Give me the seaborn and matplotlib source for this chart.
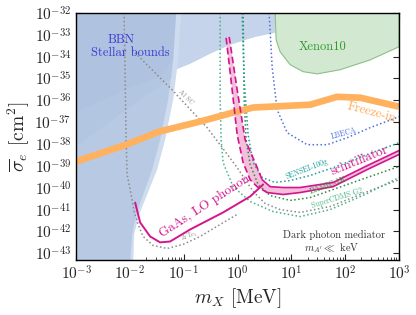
import numpy as np
import pandas as pd
import matplotlib
matplotlib.use("Agg")
import matplotlib.pyplot as plt
import seaborn as sns

# ---- data (log10 of m_X [MeV], log10 of sigma_e [cm^2]) ----
freeze_logm = [-3.0, -2.07, -1.457, -0.695, -0.082, 0.29, 1.35, 1.85, 2.28, 3.0]
freeze_logs = [-38.80, -38.03, -37.43, -36.97, -36.56, -36.33, -36.2, -35.84, -35.88, -36.29]

lo_logm = [-1.903, -1.81, -1.625, -1.439, -1.253, -0.881, -0.268, 0.234, 0.476]
lo_logs = [-40.68, -41.59, -42.23, -42.50, -42.46, -41.91, -41.13, -40.40, -39.85]

scint_up_logm = [-0.156, -0.138, -0.007, 0.141, 0.327, 0.457, 0.606, 0.848, 1.164, 1.777, 2.409, 3.0]
scint_up_logs = [-33.10, -33.37, -35.52, -37.80, -38.85, -39.63, -39.95, -39.99, -39.99, -39.76, -38.99, -38.30]
scint_lo_logm = [-0.212, -0.10, -0.007, 0.104, 0.234, 0.364, 0.55, 0.848, 1.164, 1.777, 2.409, 3.0]
scint_lo_logs = [-33.14, -35.52, -37.57, -38.85, -39.63, -39.95, -40.22, -40.31, -40.22, -39.95, -39.17, -38.48]

lbeca_logm = [0.587, 0.643, 0.736, 0.922, 1.294, 1.665, 2.037, 2.465, 3.0]
lbeca_logs = [-32.0, -34.47, -36.43, -37.48, -38.03, -38.03, -37.71, -37.25, -36.75]

sensei_logm = [0.085, 0.123, 0.197, 0.29, 0.457, 0.699, 0.978, 1.349, 1.777, 2.409, 3.0]
sensei_logs = [-32.0, -35.06, -37.57, -38.85, -39.53, -39.76, -39.67, -39.44, -39.08, -38.48, -37.94]

damic_logm = [0.104, 0.123, 0.16, 0.234, 0.383, 0.606, 0.978, 1.349, 1.777, 2.409, 3.0]
damic_logs = [-32.0, -35.97, -37.80, -38.94, -39.85, -40.36, -40.58, -40.45, -40.08, -39.53, -39.03]

cdms_logm = [-0.323, -0.323, -0.305, -0.268, -0.082, 0.234, 0.662, 1.164, 1.721, 2.372, 3.0]
cdms_logs = [-32.0, -35.97, -37.80, -38.85, -39.95, -40.63, -41.09, -41.32, -41.00, -40.31, -39.53]

alsc_logm = [-1.959, -1.216, -0.565, -0.286, -0.007, 0.29, 0.513, 0.792, 1.164, 1.721, 2.372, 3.0]
alsc_logs = [-33.69, -35.52, -37.25, -38.16, -39.08, -40.17, -40.72, -41.0, -41.13, -40.86, -40.22, -39.63]

zrte_logm = [-2.108, -2.071, -2.052, -1.978, -1.922, -1.848, -1.755, -1.569, -1.309, -1.011, -0.695, -0.323, -0.007]
zrte_logs = [-32.0, -37.80, -39.40, -40.31, -41.09, -41.68, -42.23, -42.64, -42.78, -42.59, -42.23, -41.68, -41.22]

xenon_logm = [0.699, 0.717, 0.792, 0.978, 1.219, 1.48, 1.907, 2.465, 3.0, 3.0]
xenon_logs = [-32.0, -33.23, -33.78, -34.37, -34.69, -34.79, -34.60, -34.15, -33.55, -32.0]

stellar_logm = [-3.0, -2.554, -1.996, -1.439, -0.881, -0.509, -0.138, 0.327, 0.699, 0.699]
stellar_logs = [-36.52, -36.06, -35.42, -34.88, -34.33, -33.87, -33.46, -33.10, -32.91, -32.0]

bbn_logs = [-32.0, -34.15, -35.97, -37.80, -39.17, -40.31, -41.22, -42.14, -43.5]
bbn_in_logm = [-1.141, -1.197, -1.290, -1.439, -1.587, -1.755, -1.885, -1.959, -2.0]
bbn_out_logm = [-1.048, -1.104, -1.197, -1.346, -1.494, -1.680, -1.829, -1.922, -1.941]

diag_logm = [-3.0, -2.368, -1.81, -1.216]
diag_logs = [-38.12, -36.98, -35.97, -34.97]

p10 = lambda v: np.power(10.0, np.asarray(v, dtype=float))

sns.set_theme(style="ticks")
plt.rcParams.update({
    "font.family": ["cmr10", "DejaVu Serif"],
    "mathtext.fontset": "cm",
    "axes.formatter.use_mathtext": True,
    "axes.unicode_minus": False,
    "axes.edgecolor": "black",
    "axes.linewidth": 1.0,
})

fig, ax = plt.subplots(figsize=(4.16, 3.15), dpi=100)
fig.subplots_adjust(left=0.183, right=0.959, top=0.959, bottom=0.175)
ax.set_xscale("log")
ax.set_yscale("log")
ax.set_xlim(1e-3, 1e3)
ax.set_ylim(5e-44, 1e-32)

# ---- shaded exclusion regions ----
top = -32.0
ax.fill(p10(stellar_logm + [-3.0]), p10(stellar_logs + [top]), color="#c5d4ea", lw=0)
ax.fill(p10(bbn_out_logm + [-3.0, -3.0]), p10(bbn_logs + [-43.5, top]), color="#cfdbee", lw=0)
ax.fill(p10(bbn_in_logm + [-3.0, -3.0]), p10(bbn_logs + [-43.5, top]), color="#b8cae3", lw=0)
# subtle darker overlap in the top-left corner
ax.fill(p10(diag_logm + bbn_in_logm[:2][::-1] + [-3.0]),
        p10(diag_logs + [bbn_logs[1], top, top]), color="#6f8fc4", alpha=0.06, lw=0)
ax.fill(p10(stellar_logm[:4] + [bbn_in_logm[1], bbn_in_logm[0], -3.0]),
        p10(stellar_logs[:4] + [bbn_logs[1], top, top]), color="#6f8fc4", alpha=0.06, lw=0)

ax.fill(p10(xenon_logm), p10(xenon_logs), facecolor="#d3e8d1", edgecolor="#8cbf89", lw=0.8)

# ---- dotted projections ----
dotted = [
    (zrte_logm, zrte_logs, "#8a8a8a"),
    (alsc_logm, alsc_logs, "#8a8a8a"),
    (cdms_logm, cdms_logs, "#45b383"),
    (damic_logm, damic_logs, "#2e8b3a"),
    (sensei_logm, sensei_logs, "#1c9c9c"),
    (lbeca_logm, lbeca_logs, "#4f70e0"),
]
for lm, ls, c in dotted:
    sns.lineplot(x=p10(lm), y=p10(ls), ax=ax, color=c, lw=1.1, sort=False,
                 estimator=None).lines[-1].set_dashes((1, 1.6))

# ---- freeze-in ----
sns.lineplot(x=p10(freeze_logm), y=p10(freeze_logs), ax=ax, color="#ffb15e",
             lw=4.8, sort=False, estimator=None, solid_capstyle="butt")

# ---- GaAs scintillator band ----
mag = "#d4148c"
ax.fill(np.concatenate([p10(scint_up_logm), p10(scint_lo_logm)[::-1]]),
        np.concatenate([p10(scint_up_logs), p10(scint_lo_logs)[::-1]]),
        color="#f3bfdc", lw=0)
for lm, ls, k in [(scint_up_logm, scint_up_logs, 6), (scint_lo_logm, scint_lo_logs, 7)]:
    sns.lineplot(x=p10(lm[:k]), y=p10(ls[:k]), ax=ax, color=mag, lw=1.2, sort=False,
                 estimator=None).lines[-1].set_dashes((4, 2))
    sns.lineplot(x=p10(lm[k - 1:]), y=p10(ls[k - 1:]), ax=ax, color=mag, lw=1.2,
                 sort=False, estimator=None)

# ---- GaAs LO phonon ----
sns.lineplot(x=p10(lo_logm), y=p10(lo_logs), ax=ax, color=mag, lw=1.4, sort=False, estimator=None)

# ---- labels ----
def lab(x, y, s, c, size, rot=0):
    ax.text(x, y, s, color=c, fontsize=size, rotation=rot, ha="center", va="center",
            rotation_mode="anchor", transform=ax.transAxes)

lab(0.139, 0.891, "BBN", "#3a3ad6", 9)
lab(0.167, 0.838, "Stellar bounds", "#3a3ad6", 9)
lab(0.765, 0.862, "Xenon10", "#2e9a2e", 9)
lab(0.916, 0.595, "Freeze-in", "#ffa64d", 9, -15)
lab(0.830, 0.510, "LBECA", "#4f70e0", 5.5, 15)
lab(0.715, 0.368, "SENSEI-100g", "#1c9c9c", 5.5, 21)
lab(0.780, 0.300, "DAMIC-1K", "#2e8b3a", 5.5, 20)
lab(0.808, 0.251, "SuperCDMS G2", "#45b383", 5.5, 17)
lab(0.879, 0.401, "scintillator", mag, 9.5, 22)
lab(0.399, 0.215, "GaAs, LO phonon", mag, 9.5, 33)
lab(0.353, 0.097, r"ZrTe$_5$", "#8a8a8a", 4.5, 20)
lab(0.341, 0.660, "Al SC", "#8a8a8a", 5, -45)
lab(0.799, 0.101, "Dark photon mediator", "#333333", 7.5)
lab(0.793, 0.049, r"$m_{A^\prime} \ll$ keV", "#333333", 7.5)

ax.set_xlabel(r"$m_X$ [MeV]", fontsize=14, labelpad=2)
ax.set_ylabel(r"$\overline{\sigma}_e$ [cm$^2$]", fontsize=14, labelpad=2)

ax.xaxis.set_major_locator(matplotlib.ticker.LogLocator(base=10, numticks=20))
ax.xaxis.set_minor_locator(matplotlib.ticker.LogLocator(base=10, subs=np.arange(2, 10), numticks=40))
ax.yaxis.set_major_locator(matplotlib.ticker.LogLocator(base=10, numticks=20))
ax.yaxis.set_minor_locator(matplotlib.ticker.NullLocator())
ax.tick_params(which="both", direction="in", top=True, right=True, labelsize=11)
ax.tick_params(which="major", length=4, width=0.8)
ax.tick_params(which="minor", length=2, width=0.6)

fig.savefig("out.png", dpi=100)
